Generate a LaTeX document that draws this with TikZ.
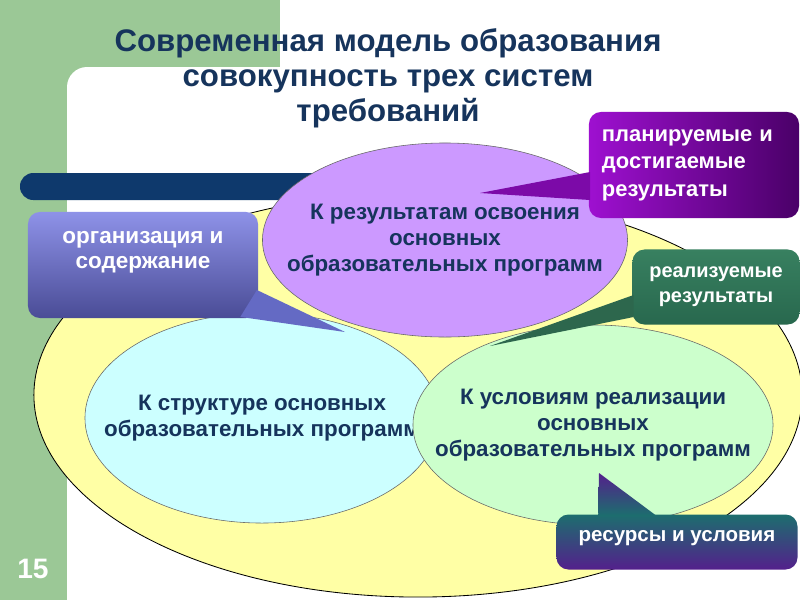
\documentclass[tikz,border=0pt]{standalone}
\usepackage{fontspec}
\setmainfont{Liberation Sans}
\usetikzlibrary{calc,shapes.geometric}

\definecolor{slideGreen}{RGB}{155,200,150}
\definecolor{barNavy}{RGB}{14,57,108}
\definecolor{titleBlue}{RGB}{22,52,92}
\definecolor{ovalYellow}{RGB}{255,255,165}
\definecolor{ovalPurple}{RGB}{204,153,255}
\definecolor{ovalCyan}{RGB}{204,255,255}
\definecolor{ovalGreen}{RGB}{204,255,204}
\definecolor{planLight}{RGB}{158,16,208}
\definecolor{planDark}{RGB}{74,0,104}
\definecolor{planMid}{RGB}{124,10,168}
\definecolor{orgLight}{RGB}{142,146,232}
\definecolor{orgDark}{RGB}{74,76,150}
\definecolor{orgMid}{RGB}{100,106,196}
\definecolor{realGreen}{RGB}{56,128,96}
\definecolor{realPurple}{RGB}{86,50,102}
\definecolor{realDark}{RGB}{40,104,78}
\definecolor{resTeal}{RGB}{28,110,110}
\definecolor{resPurple}{RGB}{84,32,140}

\begin{document}
\begin{tikzpicture}
 [
  x=0.025cm, y=-0.025cm,
  oval/.style    = {draw=black!60, ellipse, inner xsep=-3cm, inner ysep=-1cm, align=center,
                    text=titleBlue, font=\bfseries\fontsize{15.9}{18.5}\selectfont},
  callbox/.style = {rounded corners=0.3cm, inner sep=0pt, align=center, text=white,
                    font=\bfseries\fontsize{16}{17.5}\selectfont},
 ]
 \useasboundingbox (0,0) rectangle (800,600);

 % the slide
 \fill[white] (0,0) rectangle (800,600);
 \fill[slideGreen] (0,0) rectangle (280,600);
 \fill[white, rounded corners=0.5cm] (67,67) rectangle (830,640);
 \fill[barNavy, rounded corners=0.33cm] (20,173) rectangle (560,200);

 \node (title) at (388,78) [align=center, text=titleBlue,
   font=\bfseries\fontsize{22.2}{24.9}\selectfont]
   {Современная модель образования\\совокупность трех систем\\требований};

 % the three systems
 \node (outer) at (418,395) [draw=black, semithick, ellipse, fill=ovalYellow,
   minimum width=19.2cm, minimum height=10.1cm]{};

 \node (struct) at (262,418) [oval, fill=ovalCyan, minimum width=8.85cm, minimum height=5.25cm]
   {К структуре основных\\образовательных программ};
 \node (cond) at (593,425) [oval, fill=ovalGreen, minimum width=9cm, minimum height=5cm]
   {К условиям реализации\\основных\\образовательных программ};
 \node (result) at (445,240) [oval, fill=ovalPurple, minimum width=9.125cm, minimum height=4.85cm]
   {К результатам освоения\\основных\\образовательных программ};

 % the callouts
 \node (plan) at (694,165) [callbox, left color=planLight, right color=planDark,
   minimum width=5.25cm, minimum height=2.65cm, text width=4.6cm, align=left,
   font=\bfseries\fontsize{15.6}{19.5}\selectfont]
   {планируемые и\\достигаемые\\результаты};
 \node (org) at (143,265) [callbox, top color=orgLight, bottom color=orgDark,
   minimum width=5.75cm, minimum height=2.65cm, text depth=0.75cm]
   {организация и\\содержание};
 \node (real) at (716,287) [callbox, top color=realGreen, middle color=realPurple, bottom color=realDark,
   minimum width=4.175cm, minimum height=1.875cm, font=\bfseries\fontsize{14.2}{18}\selectfont]
   {реализуемые\\результаты};
 \node (res) at (677,542) [callbox, top color=resTeal, bottom color=resPurple,
   minimum width=6.025cm, minimum height=1.375cm, text depth=0.3cm,
   font=\bfseries\fontsize{14.6}{17}\selectfont]
   {ресурсы и условия};

 \coordinate (planTip) at (480,193);
 \coordinate (orgTip) at (345,332);
 \coordinate (realTip) at (490,346);
 \coordinate (resTip) at (599,473);

 \fill[planMid] (planTip) -- ([xshift=1pt, yshift=-0.175cm]plan.west)
   -- ([xshift=1pt, yshift=-0.875cm]plan.west) -- cycle;
 \fill[orgMid] (orgTip) -- ([xshift=-1pt, yshift=-0.625cm]org.east)
   -- ([xshift=-0.45cm, yshift=1pt]org.south east) -- cycle;
 \fill[realGreen!80!black] (realTip) -- ([xshift=1pt, yshift=-0.2cm]real.west)
   -- ([xshift=1pt, yshift=-0.75cm]real.west) -- cycle;
 \shade[top color=resPurple, bottom color=resTeal] (resTip)
   -- ([xshift=1.05cm, yshift=-1pt]res.north west)
   -- ([xshift=2.5cm, yshift=-1pt]res.north west) -- cycle;

 \node (page) at (33,569) [text=white, font=\bfseries\fontsize{20}{22}\selectfont]{15};
\end{tikzpicture}
\end{document}
